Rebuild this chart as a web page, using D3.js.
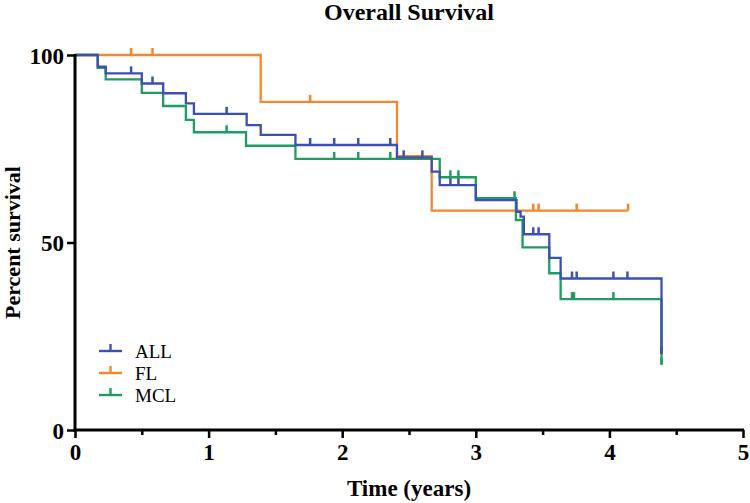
<!DOCTYPE html>
<html>
<head>
<meta charset="utf-8">
<script src="https://cdn.jsdelivr.net/npm/d3@7"></script>
<style>
  html, body { margin: 0; padding: 0; background: #fff; }
  svg { display: block; }
  text { font-family: "Liberation Serif", "Times New Roman", serif; }
</style>
</head>
<body>
<svg id="chart" width="750" height="503"></svg>
<script>
// ---- Data ----
const seriesNames = ["ALL", "FL", "MCL"];
const seriesColors = ["#3d4fb0", "#f7862a", "#1e9c62"];

// Step curves: time (years) of each event, survival (%) after the event
const allTimes = [0, 0.17, 0.23, 0.50, 0.66, 0.83, 0.89, 1.285, 1.39, 1.65, 2.41, 2.67, 2.73, 3.00, 3.305, 3.335, 3.36, 3.55, 3.635, 4.39];
const allSurv  = [100, 96.9, 95.1, 92.4, 89.8, 87.1, 84.3, 81.3, 78.7, 76.0, 72.7, 68.9, 65.3, 61.3, 58.2, 56.9, 52.2, 45.9, 40.4, 20.3];
const allCensor = [0.42, 0.58, 1.135, 1.76, 1.94, 2.12, 2.36, 2.46, 2.60, 2.81, 2.87, 3.43, 3.47, 3.72, 3.755, 4.03, 4.135, 4.39];
const allEnd = 4.39;

const flTimes = [0, 1.39, 2.41, 2.67];
const flSurv  = [100, 87.5, 73.0, 58.5];
const flCensor = [0.42, 0.58, 1.76, 3.43, 3.47, 3.755, 4.14];
const flEnd = 4.14;

const mclTimes = [0, 0.17, 0.23, 0.50, 0.66, 0.83, 0.89, 1.28, 1.65, 2.73, 3.00, 3.30, 3.35, 3.55, 3.635, 4.39];
const mclSurv  = [100, 96.6, 93.5, 89.9, 86.4, 82.7, 79.4, 75.8, 72.3, 67.4, 61.8, 56.0, 48.7, 41.8, 34.9, 17.4];
const mclCensor = [1.135, 1.94, 2.12, 2.36, 2.81, 2.87, 3.29, 3.72, 3.735, 4.03, 4.39];
const mclEnd = 4.39;

const xTicks = [0, 1, 2, 3, 4, 5];
const xMinorTicks = [0.5, 1.5, 2.5, 3.5, 4.5];
const yTicks = [0, 50, 100];

const titleText = "Overall Survival";
const xLabel = "Time (years)";
const yLabel = "Percent survival";

// ---- Layout ----
const svg = d3.select("#chart");
const mLeft = 75, mRight = 743, mTop = 55, mBottom = 430;

const x = d3.scaleLinear().domain([0, 5]).range([mLeft, mRight]);
const y = d3.scaleLinear().domain([0, 100]).range([mBottom, mTop]);

// ---- Curves ----
function buildSeries(times, surv, censor, end) {
  const pts = times.map((t, i) => ({ t, s: surv[i] }));
  pts.push({ t: end, s: surv[surv.length - 1] });
  const survAt = tt => {
    let v = surv[0];
    for (let i = 0; i < times.length; i++) if (times[i] <= tt) v = surv[i];
    return v;
  };
  const cens = censor.map(t => ({ t, s: survAt(t) }));
  return { pts, cens };
}

const data = [
  Object.assign(buildSeries(allTimes, allSurv, allCensor, allEnd), { name: seriesNames[0], color: seriesColors[0] }),
  Object.assign(buildSeries(flTimes, flSurv, flCensor, flEnd), { name: seriesNames[1], color: seriesColors[1] }),
  Object.assign(buildSeries(mclTimes, mclSurv, mclCensor, mclEnd), { name: seriesNames[2], color: seriesColors[2] })
];

const line = d3.line().x(d => x(d.t)).y(d => y(d.s)).curve(d3.curveStepAfter);

// draw order: FL, MCL, ALL (ALL on top)
const drawOrder = [1, 2, 0];
const tickLen = 7;
drawOrder.forEach(i => {
  const d = data[i];
  const g = svg.append("g");
  g.append("path")
    .attr("d", line(d.pts))
    .attr("fill", "none")
    .attr("stroke", d.color)
    .attr("stroke-width", 2.3);
  g.selectAll("line.c").data(d.cens).enter().append("line")
    .attr("x1", c => x(c.t)).attr("x2", c => x(c.t))
    .attr("y1", c => y(c.s)).attr("y2", c => y(c.s) - tickLen)
    .attr("stroke", d.color)
    .attr("stroke-width", 2.5);
});

// ---- Axes ----
const xAxisG = svg.append("g").attr("transform", `translate(0,${mBottom})`);
xAxisG.call(d3.axisBottom(x).tickValues(xTicks).tickFormat(d3.format("d")).tickSize(8).tickPadding(5));
xAxisG.append("g").call(d3.axisBottom(x).tickValues(xMinorTicks).tickFormat("").tickSize(5));

const yAxisG = svg.append("g").attr("transform", `translate(${mLeft},0)`);
yAxisG.call(d3.axisLeft(y).tickValues(yTicks).tickFormat(d3.format("d")).tickSize(8).tickPadding(3));

[xAxisG, yAxisG].forEach(g => {
  g.selectAll(".domain").remove();
  g.selectAll(".tick line").attr("stroke", "#000").attr("stroke-width", 2.5);
  g.selectAll(".tick text")
    .attr("fill", "#000")
    .style("font-family", "'Liberation Serif', serif")
    .style("font-weight", "bold")
    .style("font-size", "23px");
});
svg.append("line").attr("x1", mLeft - 1.5).attr("x2", mRight + 1).attr("y1", mBottom).attr("y2", mBottom)
  .attr("stroke", "#000").attr("stroke-width", 3);
svg.append("line").attr("x1", mLeft).attr("x2", mLeft).attr("y1", mTop - 1).attr("y2", mBottom + 1.5)
  .attr("stroke", "#000").attr("stroke-width", 3);

xAxisG.selectAll(".tick text").attr("dy", "0.72em");
yAxisG.selectAll(".tick text").attr("dy", "0.35em");

// ---- Titles ----
svg.append("text")
  .attr("x", (mLeft + mRight) / 2).attr("y", 20)
  .attr("text-anchor", "middle")
  .style("font-weight", "bold").style("font-size", "24px")
  .text(titleText);

svg.append("text")
  .attr("x", (mLeft + mRight) / 2).attr("y", 496)
  .attr("text-anchor", "middle")
  .style("font-weight", "bold").style("font-size", "23px")
  .text(xLabel);

svg.append("text")
  .attr("transform", `translate(20,${(mTop + mBottom) / 2}) rotate(-90)`)
  .attr("text-anchor", "middle")
  .style("font-weight", "bold").style("font-size", "22px")
  .text(yLabel);

// ---- Legend ----
const legend = svg.append("g").attr("transform", "translate(99,351)");
seriesNames.forEach((name, i) => {
  const g = legend.append("g").attr("transform", `translate(0,${i * 22})`);
  g.append("line").attr("x1", 0).attr("x2", 23).attr("y1", 0).attr("y2", 0)
    .attr("stroke", seriesColors[i]).attr("stroke-width", 2.4);
  g.append("line").attr("x1", 11.5).attr("x2", 11.5).attr("y1", 0).attr("y2", -7)
    .attr("stroke", seriesColors[i]).attr("stroke-width", 2.4);
  g.append("text").attr("x", 36).attr("y", 6.5)
    .style("font-size", "19px")
    .text(name);
});
</script>
</body>
</html>
